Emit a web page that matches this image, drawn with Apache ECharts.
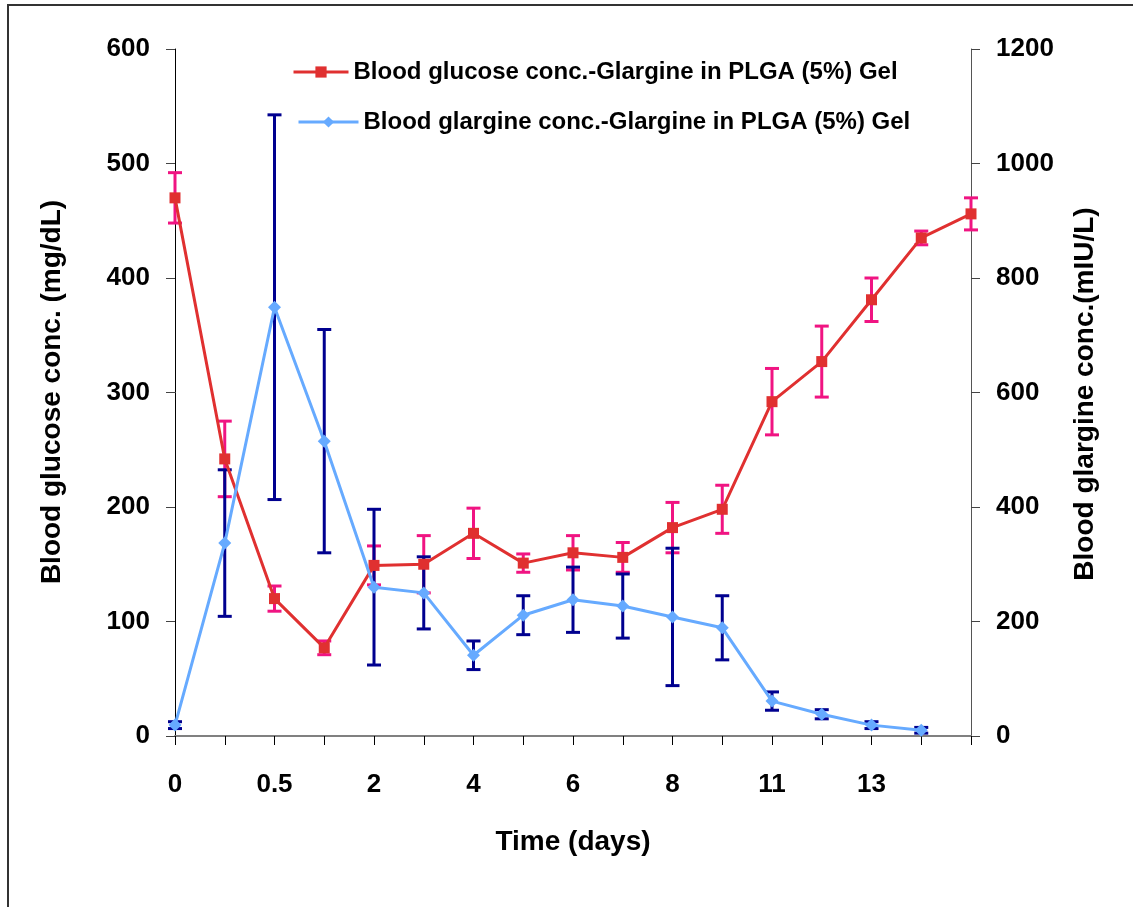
<!DOCTYPE html>
<html>
<head>
<meta charset="utf-8">
<script src="https://cdn.jsdelivr.net/npm/echarts@6/dist/echarts.min.js"></script>
<style>
html,body{margin:0;padding:0;background:#fff;}
#chart{width:1133px;height:907px;}
</style>
</head>
<body>
<div id="chart"></div>
<script>
// Categories (time, days)
const timeCats = ['0','0.25','0.5','1','2','3','4','5','6','7','8','10','11','12','13','14','15'];
// Blood glucose (mg/dL), left axis
const glucose = [470, 242, 120, 77, 149, 150, 177, 151, 160, 156, 182, 198, 292, 327, 381, 435, 456];
const glucoseErr = [22, 33, 11, 6, 17, 25, 22, 8, 15, 13, 22, 21, 29, 31, 19, 6, 14];
// Blood glargine (mIU/L), right axis
const glargine = [19, 337, 749, 515, 260, 250, 141, 211, 238, 227, 208, 189, 61, 38, 19, 10];
const glargineErr = [6, 128, 336, 195, 136, 63, 25, 34, 57, 56, 120, 56, 16, 8, 6, 5];
// Tick labels
const leftTicks = [0, 100, 200, 300, 400, 500, 600];
const rightTicks = [0, 200, 400, 600, 800, 1000, 1200];

const nameGlucose = 'Blood glucose conc.-Glargine in PLGA (5%) Gel';
const nameGlargine = 'Blood glargine conc.-Glargine in PLGA (5%) Gel';

const FONT = '"Liberation Sans", Arial, sans-serif';

function errData(vals, errs) {
  return vals.map((v, i) => [i, v - errs[i], v + errs[i]]);
}
function errRender(color) {
  return function (params, api) {
    const i = api.value(0);
    const lo = api.coord([i, api.value(1)]);
    const hi = api.coord([i, api.value(2)]);
    const hw = 7;
    const st = { stroke: color, lineWidth: 3 };
    return {
      type: 'group',
      children: [
        { type: 'line', shape: { x1: lo[0], y1: lo[1], x2: hi[0], y2: hi[1] }, style: st },
        { type: 'line', shape: { x1: lo[0] - hw, y1: lo[1], x2: lo[0] + hw, y2: lo[1] }, style: st },
        { type: 'line', shape: { x1: hi[0] - hw, y1: hi[1], x2: hi[0] + hw, y2: hi[1] }, style: st }
      ]
    };
  };
}

const chart = echarts.init(document.getElementById('chart'), null, { renderer: 'canvas' });
const axisLabelStyle = { fontFamily: FONT, fontWeight: 'bold', fontSize: 26, color: '#000' };
const legendText = { fontFamily: FONT, fontWeight: 'bold', fontSize: 24, color: '#000' };

chart.setOption({
  animation: false,
  backgroundColor: '#fff',
  grid: { left: 175, right: 162, top: 49, bottom: 171, containLabel: false },
  legend: [
    {
      data: [nameGlucose], left: 287, top: 55, orient: 'vertical',
      itemWidth: 55, itemHeight: 14,
      lineStyle: { width: 3 },
      textStyle: legendText
    },
    {
      data: [nameGlargine], left: 292, top: 105, orient: 'vertical',
      itemWidth: 60, itemHeight: 14,
      lineStyle: { width: 3 },
      textStyle: legendText
    }
  ],
  xAxis: {
    type: 'category',
    data: timeCats,
    boundaryGap: false,
    axisLine: { lineStyle: { color: '#808080', width: 2 } },
    axisTick: { show: true, interval: 0, length: 9, lineStyle: { color: '#000', width: 1 } },
    axisLabel: Object.assign({
      interval: function (idx) { return idx % 2 === 0 && idx < timeCats.length - 1; },
      margin: 36
    }, axisLabelStyle),
    splitLine: { show: false }
  },
  yAxis: [
    {
      type: 'value', min: leftTicks[0], max: leftTicks[leftTicks.length - 1], interval: 100,
      position: 'left',
      axisLine: { show: true, lineStyle: { color: '#000', width: 1 } },
      axisTick: { show: true, length: 9, lineStyle: { color: '#444' } },
      axisLabel: Object.assign({ margin: 25, formatter: function (v) { return String(v); } }, axisLabelStyle),
      splitLine: { show: false }
    },
    {
      type: 'value', min: rightTicks[0], max: rightTicks[rightTicks.length - 1], interval: 200,
      position: 'right',
      axisLine: { show: true, lineStyle: { color: '#555', width: 1 } },
      axisTick: { show: true, length: 9, lineStyle: { color: '#444' } },
      axisLabel: Object.assign({ margin: 25, formatter: function (v) { return String(v); } }, axisLabelStyle),
      splitLine: { show: false }
    }
  ],
  graphic: [
    {
      type: 'rect', shape: { x: 8, y: 5, width: 1200, height: 1000 },
      style: { fill: 'none', stroke: '#333', lineWidth: 2 }, silent: true
    },
    {
      type: 'text', x: 52, y: 392, rotation: Math.PI / 2,
      style: { text: 'Blood glucose conc. (mg/dL)', fontFamily: FONT, fontWeight: 'bold', fontSize: 28, fill: '#000', align: 'center', verticalAlign: 'middle' }
    },
    {
      type: 'text', x: 1085, y: 394, rotation: Math.PI / 2,
      style: { text: 'Blood glargine conc.(mIU/L)', fontFamily: FONT, fontWeight: 'bold', fontSize: 28, fill: '#000', align: 'center', verticalAlign: 'middle' }
    },
    {
      type: 'text', x: 573, y: 842,
      style: { text: 'Time (days)', fontFamily: FONT, fontWeight: 'bold', fontSize: 28, fill: '#000', align: 'center', verticalAlign: 'middle' }
    }
  ],
  series: [
    {
      type: 'custom', name: 'glucoseErr', yAxisIndex: 0, z: 2,
      renderItem: errRender('#F01482'),
      data: errData(glucose, glucoseErr)
    },
    {
      type: 'custom', name: 'glargineErr', yAxisIndex: 1, z: 2,
      renderItem: errRender('#00008F'),
      data: errData(glargine, glargineErr)
    },
    {
      type: 'line', name: nameGlucose, yAxisIndex: 0, z: 3,
      data: glucose,
      symbol: 'rect', symbolSize: 11, showAllSymbol: true,
      lineStyle: { color: '#E03030', width: 3 },
      itemStyle: { color: '#E03030' }
    },
    {
      type: 'line', name: nameGlargine, yAxisIndex: 1, z: 4,
      data: glargine,
      symbol: 'diamond', symbolSize: 13, showAllSymbol: true,
      lineStyle: { color: '#66AAFF', width: 3 },
      itemStyle: { color: '#66AAFF' }
    }
  ]
});
</script>
</body>
</html>
